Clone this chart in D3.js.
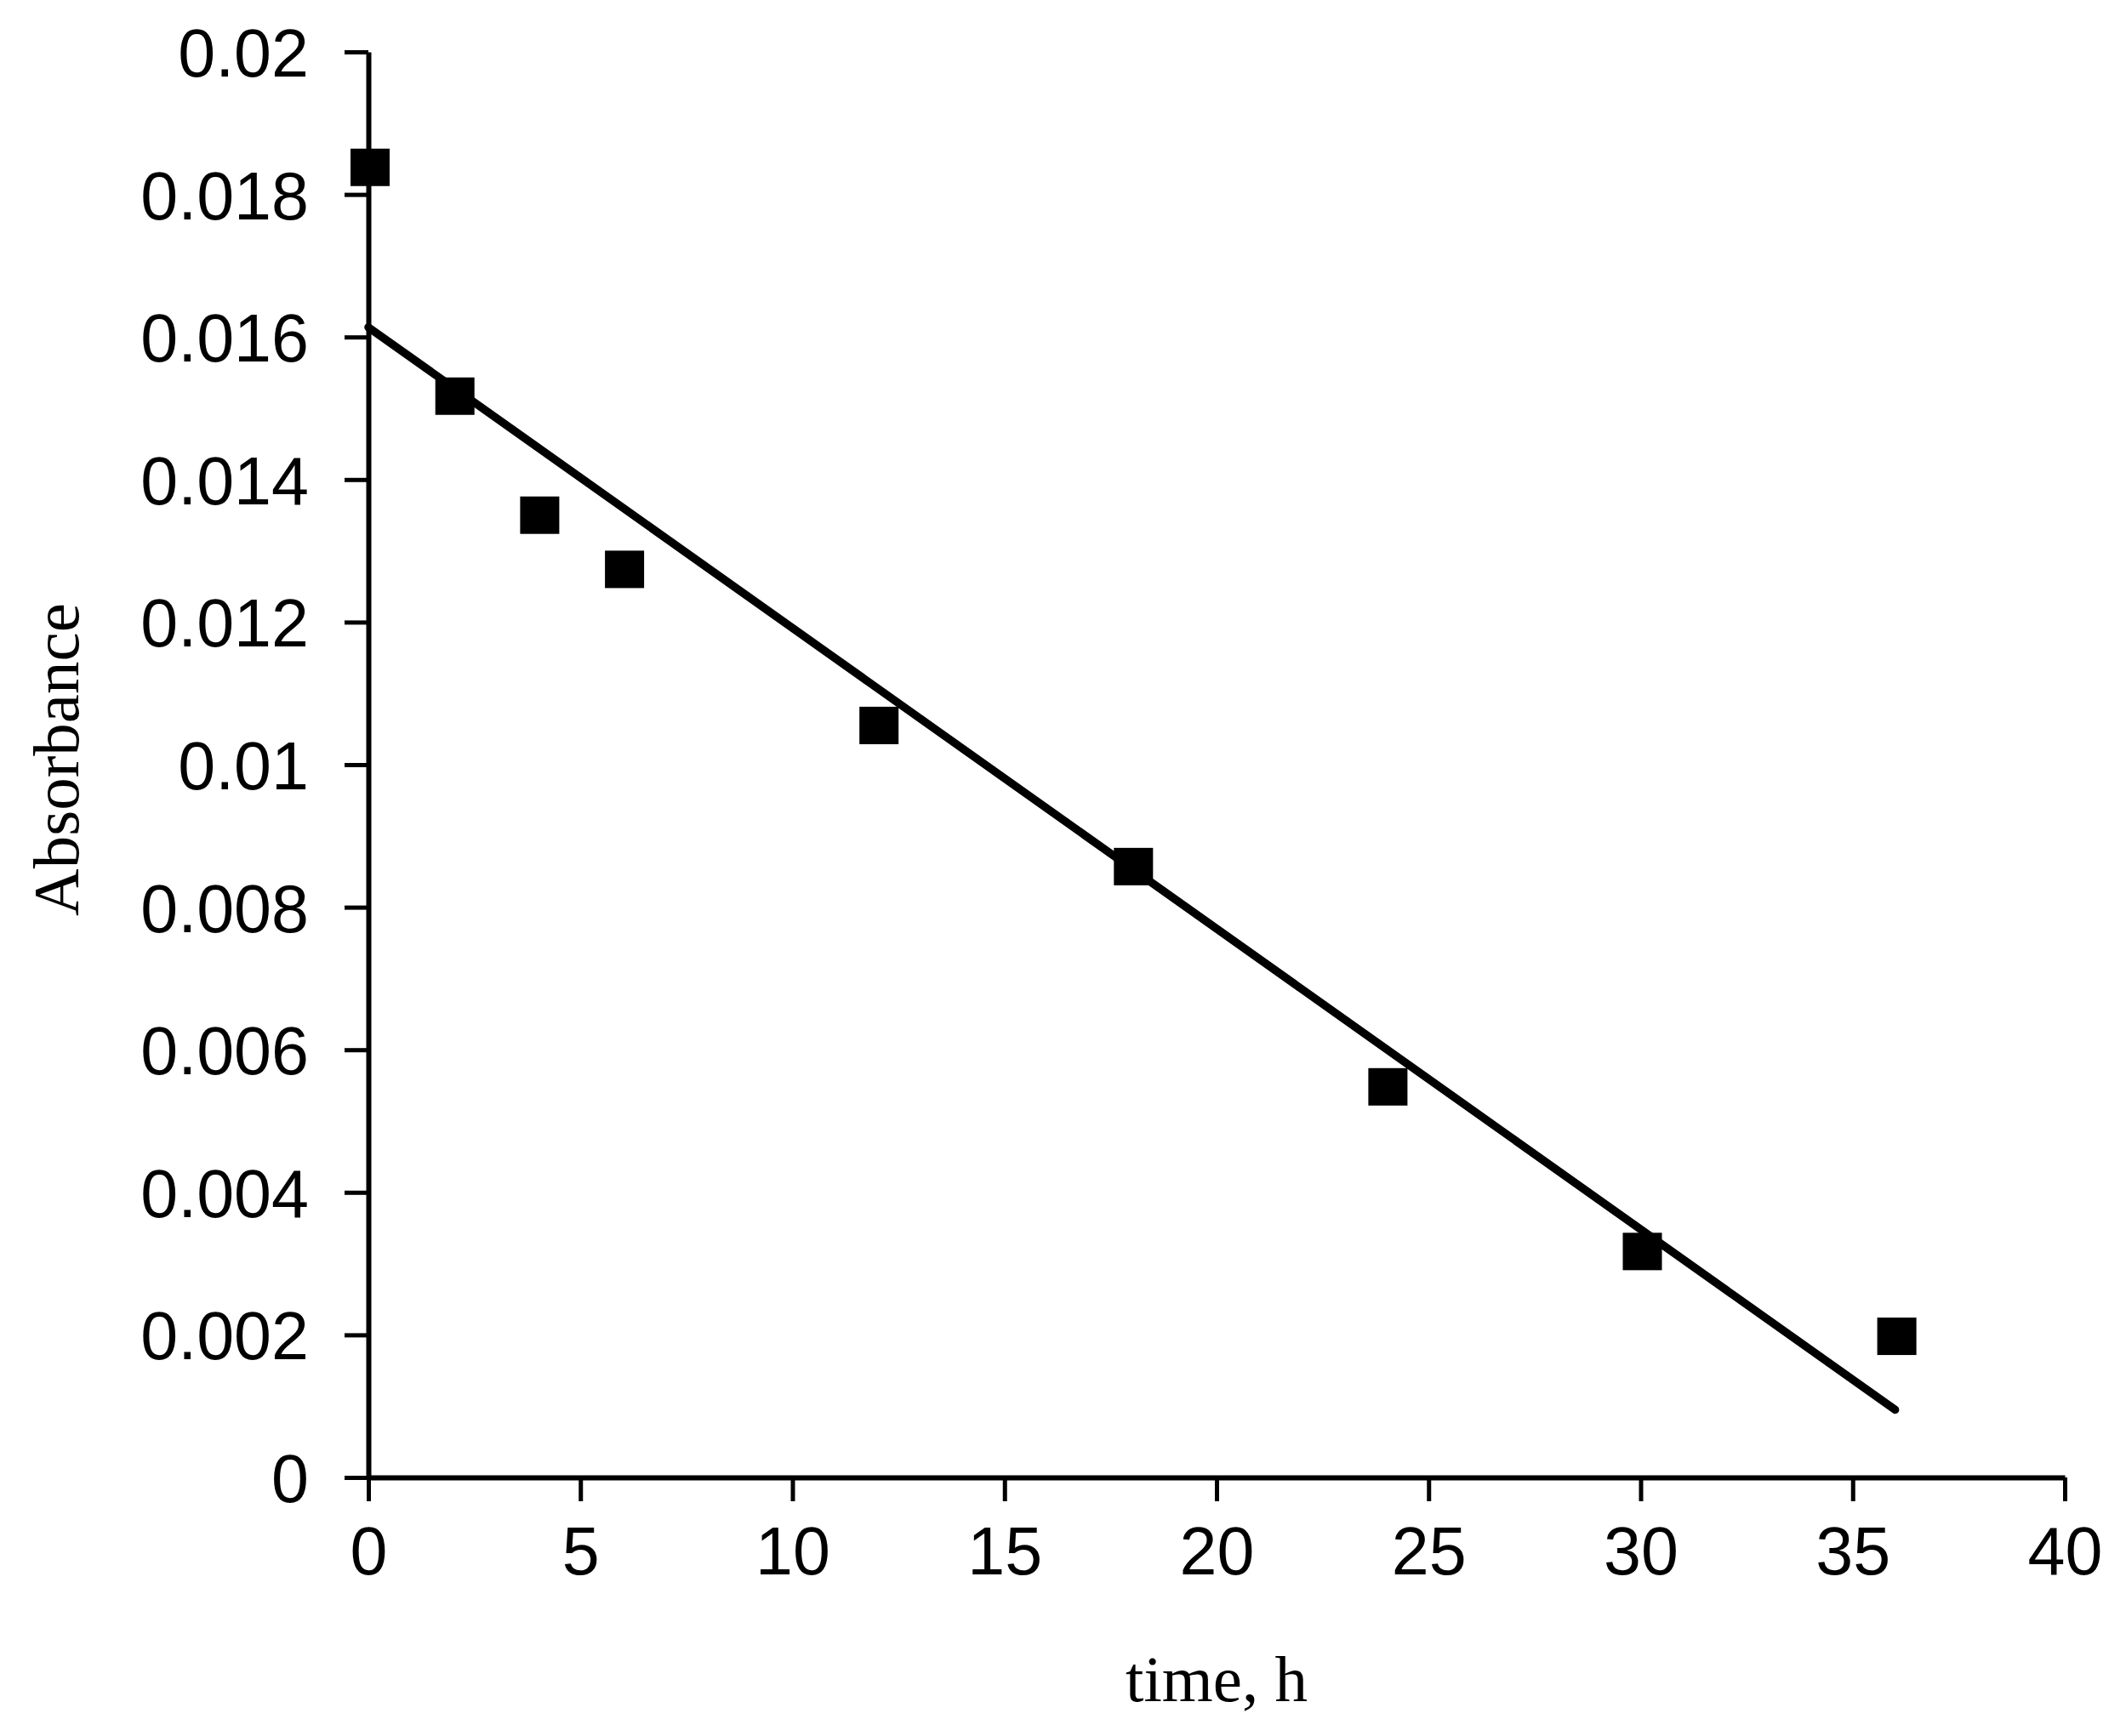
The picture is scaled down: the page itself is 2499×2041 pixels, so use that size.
<!DOCTYPE html>
<html><head><meta charset="utf-8">
<script src="https://cdn.jsdelivr.net/npm/d3@7"></script>
<style>body{margin:0;background:#fff}</style>
</head><body>
<script>
const timeH = [0, 2, 4, 6, 12, 18, 24, 30, 36];
const absorbance = [0.01838, 0.01517, 0.01350, 0.01274, 0.01055, 0.00857, 0.00548, 0.00317, 0.00198];
const xTicks = [0, 5, 10, 15, 20, 25, 30, 35, 40];
const yTicks = [0, 0.002, 0.004, 0.006, 0.008, 0.01, 0.012, 0.014, 0.016, 0.018, 0.02];
const yTickLabels = ["0", "0.002", "0.004", "0.006", "0.008", "0.01", "0.012", "0.014", "0.016", "0.018", "0.02"];
const xTitle = "time, h";
const yTitle = "Absorbance";

const W = 2499, H = 2041;
const m = {left: 433, right: 2427, top: 61, bottom: 1737};

const svg = d3.select("body").append("svg").attr("width", W).attr("height", H);
const x = d3.scaleLinear().domain([0, 40]).range([m.left, m.right]);
const y = d3.scaleLinear().domain([0, 0.02]).range([m.bottom, m.top]);

const xAxis = svg.append("g").attr("transform", `translate(0,${m.bottom})`)
  .call(d3.axisBottom(x).tickValues(xTicks).tickSize(28).tickSizeOuter(0).tickPadding(30).tickFormat(d3.format("d")));
const yAxis = svg.append("g").attr("transform", `translate(${m.left},0)`)
  .call(d3.axisLeft(y).tickValues(yTicks).tickSize(28).tickSizeOuter(0).tickPadding(42).tickFormat((d,i)=>yTickLabels[i]));
[xAxis, yAxis].forEach(g => {
  g.selectAll("path.domain").attr("stroke", "#000").attr("stroke-width", 6);
  g.selectAll(".tick line").attr("stroke", "#000").attr("stroke-width", 5);
  g.selectAll("text").attr("fill", "#000").style("font-family", "'Liberation Sans', Arial, sans-serif").style("font-size", "79px");
});
yAxis.selectAll("text").attr("dy", "0.36em");

// least-squares trendline through the points
const mx = d3.mean(timeH), my = d3.mean(absorbance);
const sxy = d3.sum(timeH, (t, i) => (t - mx) * (absorbance[i] - my));
const sxx = d3.sum(timeH, t => (t - mx) ** 2);
const slope = sxy / sxx, icpt = my - slope * mx;
const tEnds = [d3.min(timeH), d3.max(timeH)];
svg.append("path")
  .attr("d", d3.line().x(t => x(t)).y(t => y(icpt + slope * t))(tEnds))
  .attr("fill", "none").attr("stroke", "#000").attr("stroke-width", 9.5).attr("stroke-linecap", "round");

const sw = 46, sh = 44;
svg.append("g").selectAll("rect").data(timeH).join("rect")
  .attr("x", d => x(d) - sw / 2 + 2).attr("y", (d, i) => y(absorbance[i]) - sh / 2)
  .attr("width", sw).attr("height", sh).attr("fill", "#000");

svg.append("text").attr("x", (m.left + m.right) / 2).attr("y", 2000)
  .attr("text-anchor", "middle").style("font-family", "'Liberation Serif', 'Times New Roman', serif")
  .style("font-size", "77px").text(xTitle);
svg.append("text").attr("transform", `translate(92,893) rotate(-90)`)
  .attr("text-anchor", "middle").style("font-family", "'Liberation Serif', 'Times New Roman', serif")
  .style("font-size", "77px").text(yTitle);
</script>
</body></html>
